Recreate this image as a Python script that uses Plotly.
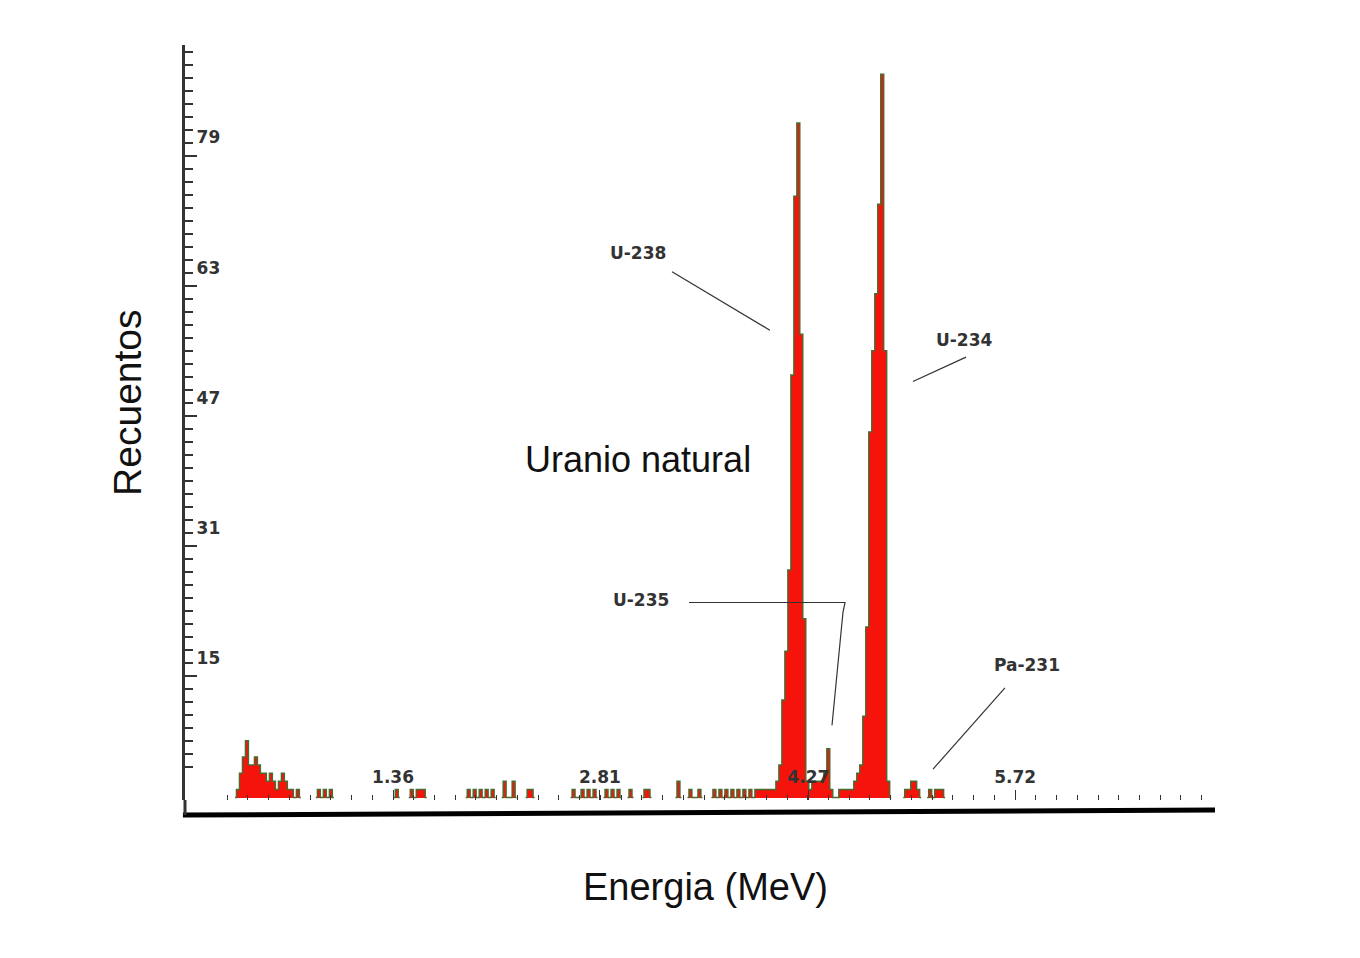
import plotly.graph_objects as go

# analyser calibration: MeV per channel
mev_per_channel = 0.021

# low-energy noise (channels from low_start)
low_start = 13
low_counts = [1, 3, 5, 7, 4, 4, 5, 4, 3, 3, 2, 3, 2, 1, 2, 3, 2, 1, 1]

# scattered background counts
bg_channels = [33, 40, 42, 44, 66, 71, 73, 74, 75, 90, 92, 94, 96, 98, 102, 105, 110, 111,
               125, 128, 130, 132, 136, 138, 140, 144, 149, 150, 160, 164, 167,
               172, 174, 176, 178, 180, 182, 184, 244, 246, 247, 248]
bg_counts = [1, 1, 1, 1, 1, 1, 1, 1, 1, 1, 1, 1, 1, 1, 2, 2, 1, 1,
             1, 1, 1, 1, 1, 1, 1, 1, 1, 1, 2, 1, 1,
             1, 1, 1, 1, 1, 1, 1, 1, 1, 1, 1]

# U-238 region
u238_start = 186
u238_counts = [1, 1, 1, 1, 1, 1, 1, 2, 4, 12, 18, 28, 52, 74, 83, 57, 22, 2]

# U-235 region
u235_start = 204
u235_counts = [1, 2, 2, 2, 2, 3, 6, 1, 0, 0, 1, 1, 1]

# U-234 region
u234_start = 217
u234_counts = [1, 1, 2, 3, 4, 10, 21, 45, 55, 62, 73, 89, 55, 2]

# Pa-231 region
pa231_start = 236
pa231_counts = [1, 1, 2, 2, 1]

x_ticks = [1.36, 2.81, 4.27, 5.72]
y_ticks = [15, 31, 47, 63, 79]

spectrum = {}
for start, counts in [(low_start, low_counts), (u238_start, u238_counts),
                      (u235_start, u235_counts), (u234_start, u234_counts),
                      (pa231_start, pa231_counts)]:
    for i, c in enumerate(counts):
        spectrum[start + i] = c
for ch, c in zip(bg_channels, bg_counts):
    spectrum[ch] = c

chans = sorted(spectrum)
bar_x = [ch * mev_per_channel for ch in chans if spectrum[ch] > 0]
bar_y = [spectrum[ch] for ch in chans if spectrum[ch] > 0]

# outline of the histogram, broken where there are no counts
line_x, line_y = [], []
for ch in range(chans[0] - 1, chans[-1] + 2):
    line_x.append(ch * mev_per_channel)
    if ch in spectrum:
        line_y.append(spectrum[ch])
    elif (ch - 1) in spectrum or (ch + 1) in spectrum:
        line_y.append(0)
    else:
        line_y.append(None)

fig = go.Figure()
fig.add_trace(go.Bar(x=bar_x, y=bar_y, width=mev_per_channel,
                     marker=dict(color='#f5130b', line=dict(width=0))))
fig.add_trace(go.Scatter(x=line_x, y=line_y, mode='lines',
                         line=dict(color='#4a6b30', width=1.4, shape='hvh'),
                         connectgaps=False))

lbl = dict(family='DejaVu Sans', size=17, color='#333333', weight='bold')
big = dict(family='Liberation Sans, Arial', size=36, color='#111111')

# the page adds an 8px body margin, so the figure is 8px smaller each way
fig.update_layout(
    width=1352, height=950,
    margin=dict(l=177, r=145, t=37, b=158),
    paper_bgcolor='white', plot_bgcolor='white',
    showlegend=False, bargap=0,
    xaxis=dict(range=[-0.098, 7.12], showgrid=False, zeroline=False, showline=False,
               tickmode='array', tickvals=x_ticks, ticktext=[f'{v:.2f}' for v in x_ticks],
               ticks='inside', ticklen=10, tickwidth=1, tickcolor='#333333',
               ticklabelposition='inside', ticklabelstandoff=4,
               tickfont=lbl,
               minor=dict(tickmode='linear', tick0=1.36, dtick=0.1453, ticks='inside',
                          ticklen=5, tickwidth=1, tickcolor='#333333')),
    yaxis=dict(range=[-0.3, 92.6], showgrid=False, zeroline=False,
               showline=True, linecolor='#333333', linewidth=3,
               tickmode='array', tickvals=y_ticks,
               ticks='inside', ticklen=12, tickwidth=1.5, tickcolor='#333333',
               ticklabelposition='inside', ticklabelshift=-18, ticklabelstandoff=0,
               tickfont=lbl,
               minor=dict(tickmode='linear', tick0=15, dtick=1.6, ticks='inside',
                          ticklen=8, tickwidth=1.5, tickcolor='#333333')),
)

# leader lines for the isotope labels
leaders = [
    [(3.315, 64.7), (4.001, 57.5)],
    [(5.375, 54.2), (5.003, 51.2)],
    [(3.434, 24.0), (4.527, 24.0), (4.513, 22.8), (4.436, 8.9)],
    [(5.648, 13.5), (5.144, 3.5)],
]
for pts in leaders:
    path = 'M ' + ' L '.join(f'{x} {y}' for x, y in pts)
    fig.add_shape(type='path', path=path, xref='x', yref='y',
                  line=dict(color='#333333', width=1.2))

for text, x, y in [('U-238', 3.076, 67.0), ('U-234', 5.368, 56.3),
                   ('U-235', 3.097, 24.3), ('Pa-231', 5.802, 16.3)]:
    fig.add_annotation(x=x, y=y, xref='x', yref='y', text=text,
                       showarrow=False, font=lbl)

fig.add_annotation(x=3.076, y=41.6, xref='x', yref='y', text='Uranio natural',
                   showarrow=False, font=big, xanchor='center', yanchor='middle')
fig.add_annotation(x=-0.0553, y=0.526, xref='paper', yref='paper', text='Recuentos',
                   textangle=-90, showarrow=False, font=dict(big, size=39),
                   xanchor='center', yanchor='middle')
fig.add_annotation(x=0.505, y=-0.115, xref='paper', yref='paper', text='Energia (MeV)',
                   showarrow=False, font=dict(big, size=38),
                   xanchor='center', yanchor='middle')

# thick base line and axis stub under the plot area
fig.add_shape(type='line', xref='paper', yref='paper', x0=-0.002, x1=1.0,
              y0=-0.0199, y1=-0.0133, line=dict(color='black', width=5))
fig.add_shape(type='line', xref='paper', yref='paper', x0=0, x1=0,
              y0=0, y1=-0.02, line=dict(color='#333333', width=3))

fig.write_html("out.html")
